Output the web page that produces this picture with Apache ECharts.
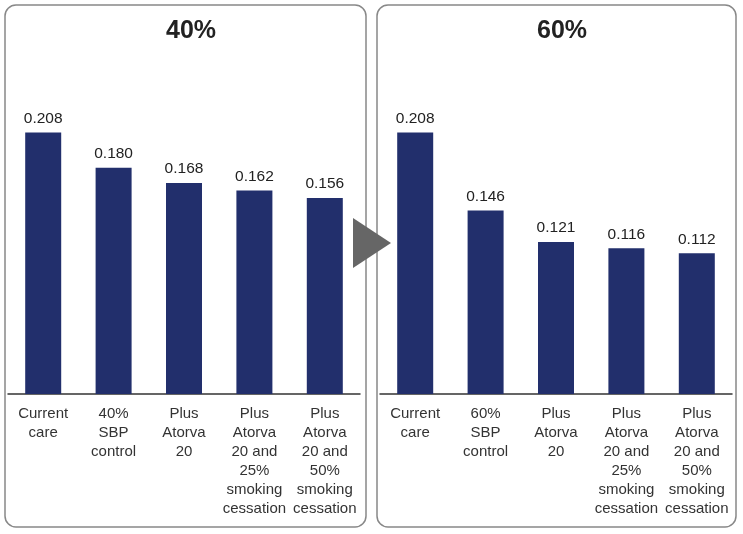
<!DOCTYPE html>
<html>
<head>
<meta charset="utf-8">
<script src="https://cdn.jsdelivr.net/npm/echarts@6/dist/echarts.min.js"></script>
<style>html,body{margin:0;padding:0;background:#fff}#c{width:743px;height:534px}</style>
</head>
<body>
<div id="c"></div>
<script>
var panelTitles = ['40%', '60%'];
var categories40 = ['Current\ncare', '40%\nSBP\ncontrol', 'Plus\nAtorva\n20', 'Plus\nAtorva\n20 and\n25%\nsmoking\ncessation', 'Plus\nAtorva\n20 and\n50%\nsmoking\ncessation'];
var categories60 = ['Current\ncare', '60%\nSBP\ncontrol', 'Plus\nAtorva\n20', 'Plus\nAtorva\n20 and\n25%\nsmoking\ncessation', 'Plus\nAtorva\n20 and\n50%\nsmoking\ncessation'];
var values40 = [0.208, 0.180, 0.168, 0.162, 0.156];
var values60 = [0.208, 0.146, 0.121, 0.116, 0.112];

var font = '"Liberation Sans", Arial, Helvetica, sans-serif';
var barColor = '#222f6c';
var chart = echarts.init(document.getElementById('c'));

function xAx(idx, cats) {
  return {
    type: 'category', gridIndex: idx, data: cats,
    axisLine: { show: true, lineStyle: { color: '#333', width: 1.5 } },
    axisTick: { show: false },
    axisLabel: { interval: 0, color: '#333', fontFamily: font, fontSize: 15, lineHeight: 19, margin: 10 }
  };
}
function yAx(idx) {
  return { type: 'value', gridIndex: idx, min: 0, max: 0.3, show: false, splitLine: { show: false } };
}
function ser(idx, vals) {
  return {
    type: 'bar', xAxisIndex: idx, yAxisIndex: idx, data: vals, barWidth: 36,
    itemStyle: { color: barColor },
    label: { show: true, position: 'top', distance: 6, color: '#222', fontFamily: font, fontSize: 15.5,
      formatter: function (p) { return p.value.toFixed(3); } },
    silent: true
  };
}

chart.setOption({
  animation: false,
  title: [
    { text: panelTitles[0], left: 186, top: 14, textAlign: 'center',
      textStyle: { fontFamily: font, fontSize: 25, fontWeight: 'bold', color: '#222' } },
    { text: panelTitles[1], left: 557, top: 14, textAlign: 'center',
      textStyle: { fontFamily: font, fontSize: 25, fontWeight: 'bold', color: '#222' } }
  ],
  grid: [
    { left: 8, width: 352, top: 17, height: 377 },
    { left: 380, width: 352, top: 17, height: 377 }
  ],
  xAxis: [xAx(0, categories40), xAx(1, categories60)],
  yAxis: [yAx(0), yAx(1)],
  series: [ser(0, values40), ser(1, values60)],
  graphic: [
    { type: 'rect', shape: { x: 5, y: 5, width: 361, height: 522, r: 11 }, z: -1,
      style: { fill: 'none', stroke: '#888', lineWidth: 1.5 } },
    { type: 'rect', shape: { x: 377, y: 5, width: 359, height: 522, r: 11 }, z: -1,
      style: { fill: 'none', stroke: '#888', lineWidth: 1.5 } },
    { type: 'polygon', shape: { points: [[353, 218], [353, 268], [391, 243]] }, z: 10,
      style: { fill: '#666' } }
  ]
});
</script>
</body>
</html>
